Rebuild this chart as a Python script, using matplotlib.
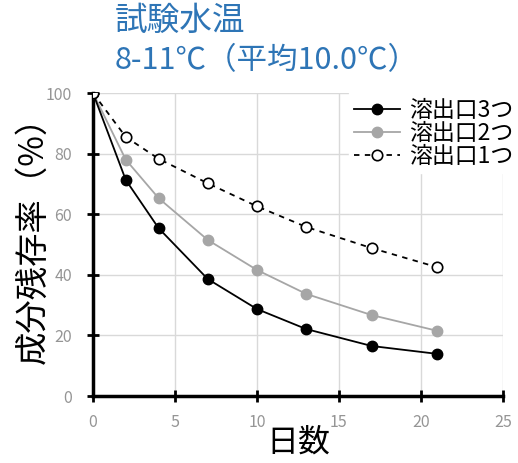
import matplotlib.pyplot as plt

plt.rcParams['font.family'] = ['Noto Sans CJK JP', 'DejaVu Sans']

days = [0, 2, 4, 7, 10, 13, 17, 21]
outlet3 = [100, 71.3, 55.4, 38.6, 28.7, 22.1, 16.5, 13.9]
outlet2 = [100, 78.0, 65.3, 51.5, 41.6, 33.7, 26.7, 21.5]
outlet1 = [100, 85.5, 78.3, 70.2, 62.6, 55.8, 48.8, 42.5]
labels = ['溶出口3つ', '溶出口2つ', '溶出口1つ']

fig = plt.figure(figsize=(5.18, 4.63), dpi=100)
ax = fig.add_axes([0.1795, 0.1447, 0.7915, 0.6544])

ax.plot(days, outlet3, color='black', lw=1.3, marker='o', ms=7.5,
        mfc='black', mec='black', label=labels[0], zorder=4)
ax.plot(days, outlet2, color='#a6a6a6', lw=1.3, marker='o', ms=7.5,
        mfc='#a6a6a6', mec='#a6a6a6', label=labels[1], zorder=3)
ax.plot(days, outlet1, color='black', lw=1.3, ls=(0, (3, 3)), marker='o', ms=7.5,
        mfc='white', mec='black', mew=1.2, label=labels[2], zorder=5)

ax.set_xlim(0, 25)
ax.set_ylim(0, 100)
ax.set_xticks(range(0, 26, 5))
ax.set_yticks(range(0, 101, 20))
ax.grid(True, color='#d9d9d9', lw=1)
ax.set_axisbelow(True)

for s in ['top', 'right']:
    ax.spines[s].set_visible(False)
for s in ['left', 'bottom']:
    ax.spines[s].set_linewidth(2.5)
    ax.spines[s].set_color('black')
ax.tick_params(direction='inout', length=8, width=2, color='black',
               labelcolor='#959595', labelsize=11.5)
ax.tick_params(axis='y', pad=11)
ax.tick_params(axis='x', pad=9)

ax.set_xlabel('日数', fontsize=23, labelpad=-3)
fig.text(33 / 518, 1 - 232 / 463, '成分残存率（%）', fontsize=24,
         rotation=90, ha='center', va='center')

leg = ax.legend(loc='upper right', bbox_to_anchor=(1.04, 1.0), fontsize=16.5,
                frameon=True, fancybox=False, edgecolor='white',
                facecolor='white', framealpha=1, handlelength=2.0,
                handletextpad=0.4, labelspacing=0.0, borderpad=0.25,
                borderaxespad=0)

fig.text(0.222, 0.955, '試験水温', color='#2e75b6', fontsize=23.5, va='center')
fig.text(0.222, 0.87, '8-11℃（平均10.0℃）', color='#2e75b6', fontsize=22, va='center')

fig.savefig('out.png', dpi=100)
